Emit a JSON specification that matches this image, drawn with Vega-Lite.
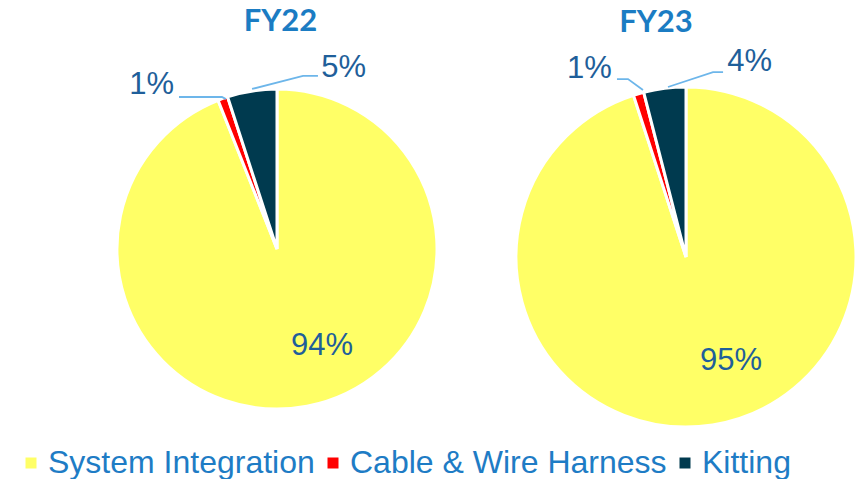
{
  "$schema": "https://vega.github.io/schema/vega-lite/v6.json",
  "background": "white",
  "padding": {"left": 15, "top": 6, "right": 0, "bottom": 0},
  "spacing": 79,
  "bounds": "flush",
  "datasets": {
    "shares": [
      {"fy": "FY22", "segment": "System Integration", "rank": 1, "share": 94},
      {"fy": "FY22", "segment": "Cable & Wire Harness", "rank": 2, "share": 1},
      {"fy": "FY22", "segment": "Kitting", "rank": 3, "share": 5},
      {"fy": "FY23", "segment": "System Integration", "rank": 1, "share": 95},
      {"fy": "FY23", "segment": "Cable & Wire Harness", "rank": 2, "share": 1},
      {"fy": "FY23", "segment": "Kitting", "rank": 3, "share": 4}
    ],
    "labels": [
      {"fy": "FY22", "segment": "System Integration", "text": "94%", "lx": 0.281, "ly": -0.603},
      {"fy": "FY22", "segment": "Cable & Wire Harness", "text": "1%", "lx": -0.784, "ly": 1.019},
      {"fy": "FY22", "segment": "Kitting", "text": "5%", "lx": 0.416, "ly": 1.122},
      {"fy": "FY23", "segment": "System Integration", "text": "95%", "lx": 0.265, "ly": -0.618},
      {"fy": "FY23", "segment": "Cable & Wire Harness", "text": "1%", "lx": -0.568, "ly": 1.115},
      {"fy": "FY23", "segment": "Kitting", "text": "4%", "lx": 0.374, "ly": 1.156}
    ],
    "leaders": [
      {"fy": "FY22", "segment": "Cable & Wire Harness", "seq": 1, "lx": -0.6125, "ly": 0.944},
      {"fy": "FY22", "segment": "Cable & Wire Harness", "seq": 2, "lx": -0.344, "ly": 0.944},
      {"fy": "FY22", "segment": "Cable & Wire Harness", "seq": 3, "lx": -0.319, "ly": 0.931},
      {"fy": "FY22", "segment": "Kitting", "seq": 1, "lx": -0.156, "ly": 0.994},
      {"fy": "FY22", "segment": "Kitting", "seq": 2, "lx": 0.1625, "ly": 1.075},
      {"fy": "FY22", "segment": "Kitting", "seq": 3, "lx": 0.256, "ly": 1.075},
      {"fy": "FY23", "segment": "Cable & Wire Harness", "seq": 1, "lx": -0.406, "ly": 1.053},
      {"fy": "FY23", "segment": "Cable & Wire Harness", "seq": 2, "lx": -0.341, "ly": 1.053},
      {"fy": "FY23", "segment": "Cable & Wire Harness", "seq": 3, "lx": -0.253, "ly": 0.988},
      {"fy": "FY23", "segment": "Kitting", "seq": 1, "lx": -0.106, "ly": 1.006},
      {"fy": "FY23", "segment": "Kitting", "seq": 2, "lx": 0.159, "ly": 1.094},
      {"fy": "FY23", "segment": "Kitting", "seq": 3, "lx": 0.218, "ly": 1.094}
    ]
  },
  "hconcat": [
    {
      "width": 320,
      "height": 322,
      "title": {"text": "FY22", "anchor": "middle", "dx": 3.5, "offset": -10, "baseline": "alphabetic", "font": "Lato", "fontSize": 31, "fontWeight": "bold", "color": "#1B7CC3"},
      "layer": [
        {
          "data": {"name": "shares"},
          "transform": [{"filter": "datum.fy === 'FY22'"}],
          "mark": {"type": "arc", "outerRadius": 160, "stroke": "white", "strokeWidth": 3},
          "encoding": {
            "theta": {"field": "share", "type": "quantitative", "stack": true},
            "order": {"field": "rank", "type": "quantitative"},
            "color": {
              "field": "segment", "type": "nominal",
              "scale": {"domain": ["System Integration", "Cable & Wire Harness", "Kitting"], "range": ["#FFFF66", "#FF0000", "#003A4F"]},
              "legend": {"orient": "none", "legendX": -102, "legendY": 359, "direction": "horizontal", "title": null, "symbolType": "square", "symbolSize": 121, "symbolStrokeWidth": 0, "symbolOpacity": 1, "labelFont": "Liberation Sans", "labelFontSize": 32, "labelColor": "#1E7CC5", "labelOffset": 1, "columnPadding": 2, "padding": 0, "labelLimit": 600}
            }
          }
        },
        {
          "data": {"name": "leaders"},
          "transform": [{"filter": "datum.fy === 'FY22'"}],
          "mark": {"type": "line", "color": "#6DB6EA", "strokeWidth": 1.8},
          "encoding": {
            "x": {"field": "lx", "type": "quantitative", "scale": {"domain": [-1, 1], "nice": false}, "axis": null},
            "y": {"field": "ly", "type": "quantitative", "scale": {"domain": [-1, 1], "nice": false}, "axis": null},
            "detail": {"field": "segment"},
            "order": {"field": "seq"}
          }
        },
        {
          "data": {"name": "labels"},
          "transform": [{"filter": "datum.fy === 'FY22'"}],
          "mark": {"type": "text", "font": "Liberation Sans", "fontSize": 31, "color": "#1F5F9A", "align": "center", "baseline": "middle"},
          "encoding": {
            "x": {"field": "lx", "type": "quantitative", "scale": {"domain": [-1, 1], "nice": false}, "axis": null},
            "y": {"field": "ly", "type": "quantitative", "scale": {"domain": [-1, 1], "nice": false}, "axis": null},
            "text": {"field": "text"}
          }
        }
      ]
    },
    {
      "width": 340,
      "height": 338,
      "title": {"text": "FY23", "anchor": "middle", "dx": -30, "offset": -17, "baseline": "alphabetic", "font": "Lato", "fontSize": 31, "fontWeight": "bold", "color": "#1B7CC3"},
      "layer": [
        {
          "data": {"name": "shares"},
          "transform": [{"filter": "datum.fy === 'FY23'"}],
          "mark": {"type": "arc", "outerRadius": 170, "stroke": "white", "strokeWidth": 3},
          "encoding": {
            "theta": {"field": "share", "type": "quantitative", "stack": true},
            "order": {"field": "rank", "type": "quantitative"},
            "color": {
              "field": "segment", "type": "nominal",
              "scale": {"domain": ["System Integration", "Cable & Wire Harness", "Kitting"], "range": ["#FFFF66", "#FF0000", "#003A4F"]},
              "legend": {"orient": "none", "legendX": -102, "legendY": 359, "direction": "horizontal", "title": null, "symbolType": "square", "symbolSize": 121, "symbolStrokeWidth": 0, "symbolOpacity": 1, "labelFont": "Liberation Sans", "labelFontSize": 32, "labelColor": "#1E7CC5", "labelOffset": 1, "columnPadding": 2, "padding": 0, "labelLimit": 600}
            }
          }
        },
        {
          "data": {"name": "leaders"},
          "transform": [{"filter": "datum.fy === 'FY23'"}],
          "mark": {"type": "line", "color": "#6DB6EA", "strokeWidth": 1.8},
          "encoding": {
            "x": {"field": "lx", "type": "quantitative", "scale": {"domain": [-1, 1], "nice": false}, "axis": null},
            "y": {"field": "ly", "type": "quantitative", "scale": {"domain": [-1, 1], "nice": false}, "axis": null},
            "detail": {"field": "segment"},
            "order": {"field": "seq"}
          }
        },
        {
          "data": {"name": "labels"},
          "transform": [{"filter": "datum.fy === 'FY23'"}],
          "mark": {"type": "text", "font": "Liberation Sans", "fontSize": 31, "color": "#1F5F9A", "align": "center", "baseline": "middle"},
          "encoding": {
            "x": {"field": "lx", "type": "quantitative", "scale": {"domain": [-1, 1], "nice": false}, "axis": null},
            "y": {"field": "ly", "type": "quantitative", "scale": {"domain": [-1, 1], "nice": false}, "axis": null},
            "text": {"field": "text"}
          }
        }
      ]
    }
  ],
  "resolve": {"scale": {"x": "independent", "y": "independent"}},
  "config": {"view": {"stroke": null}}
}
